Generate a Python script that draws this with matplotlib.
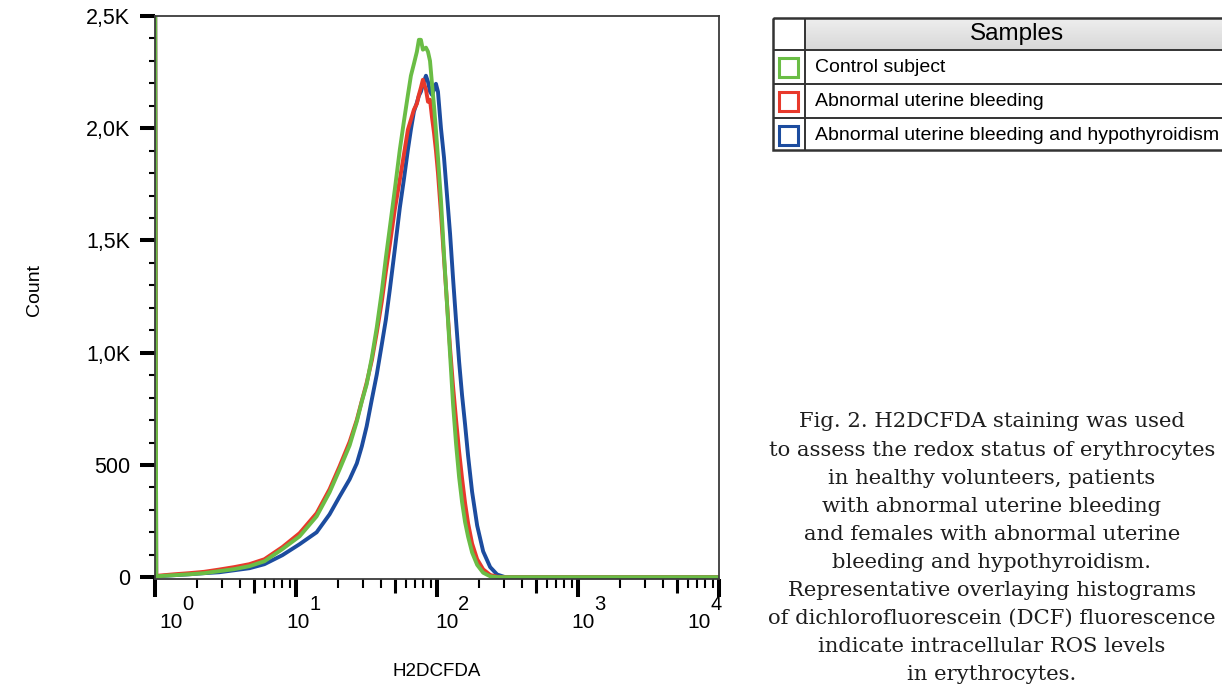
import numpy as np
import matplotlib.pyplot as plt
import matplotlib.transforms as mtransforms
from matplotlib.patches import Rectangle
from matplotlib.colors import LinearSegmentedColormap
from matplotlib.ticker import FixedLocator, MultipleLocator, NullLocator, NullFormatter

plt.rcParams['font.family'] = ['Liberation Sans', 'DejaVu Sans']

# H2DCFDA fluorescence (channel positions, a.u.)
fluor = [1.0, 1.02, 1.37, 1.75, 2.23, 2.85, 3.65, 4.67, 5.97, 8.0, 10.6, 14.0, 17.3, 20.4,
         24.0, 27.0, 29.3, 31.7, 34.5, 37.4, 40.6, 43.4, 46.3, 50.2, 54.5, 58.2, 62.2, 65.3,
         68.6, 72.0, 74.4, 76.9, 79.4, 83.5, 86.3, 89.2, 92.1, 95.2, 98.3, 101.6, 106.7,
         112.1, 117.8, 123.8, 130.0, 136.6, 143.5, 150.6, 158.2, 166.2, 177.4, 192.7, 212.5,
         238.3, 267, 305, 360, 1000, 10000]

# event counts per channel
control = [3000, 4, 9, 13, 18, 27, 36, 49, 71, 125, 182, 271, 378, 481, 587, 694, 783, 859,
           979, 1113, 1273, 1424, 1558, 1727, 1905, 2029, 2149, 2234, 2287, 2341, 2394, 2394,
           2350, 2359, 2341, 2300, 2200, 2100, 1990, 1870, 1680, 1437, 1215, 992, 770, 592,
           445, 334, 245, 180, 110, 55, 20, 4, 0, 0, 0, 0, 0]
aub = [3000, 6, 13, 18, 24, 34, 45, 58, 80, 134, 196, 285, 392, 495, 603, 701, 786, 866,
       966, 1090, 1228, 1362, 1482, 1638, 1771, 1882, 1994, 2038, 2083, 2109, 2149, 2181,
       2216, 2172, 2118, 2127, 2050, 1980, 1900, 1800, 1620, 1420, 1220, 1020, 850, 700,
       560, 440, 330, 240, 150, 80, 35, 10, 2, 0, 0, 0, 0]
aub_hypo = [3000, 4, 9, 13, 18, 22, 31, 40, 58, 98, 147, 200, 280, 360, 436, 507, 583, 672,
            792, 903, 1037, 1148, 1282, 1460, 1646, 1771, 1905, 1994, 2074, 2114, 2145, 2163,
            2194, 2234, 2207, 2163, 2149, 2172, 2198, 2163, 2000, 1870, 1700, 1530, 1330,
            1140, 960, 810, 680, 540, 380, 230, 115, 45, 12, 0, 0, 0, 0]

samples = ['Control subject', 'Abnormal uterine bleeding',
           'Abnormal uterine bleeding and hypothyroidism']
colors = ['#6abd45', '#e8392b', '#1c4c9f']

y_ticks = [0, 500, 1000, 1500, 2000, 2500]
y_labels = ['0', '500', '1,0K', '1,5K', '2,0K', '2,5K']
x_decades = [1, 10, 100, 1000, 10000]
x_exps = ['0', '1', '2', '3', '4']

caption = ['Fig. 2. H2DCFDA staining was used',
           'to assess the redox status of erythrocytes',
           'in healthy volunteers, patients',
           'with abnormal uterine bleeding',
           'and females with abnormal uterine',
           'bleeding and hypothyroidism.',
           'Representative overlaying histograms',
           'of dichlorofluorescein (DCF) fluorescence',
           'indicate intracellular ROS levels',
           'in erythrocytes.']

W, H = 1222, 687
fig = plt.figure(figsize=(W / 100, H / 100), dpi=100)
ax = fig.add_axes([155 / W, 1 - 579 / H, (719 - 155) / W, (579 - 16) / H])

# histograms: blue under red under green
for counts, c in zip([aub_hypo, aub, control], colors[::-1]):
    ax.plot(fluor, counts, color=c, lw=2.8, solid_joinstyle='round')

ax.set_xscale('log')
ax.set_xlim(1, 1e4)
ax.set_ylim(-8, 2500)

for s in ax.spines.values():
    s.set_color('#3a3a3a')
    s.set_linewidth(1.3)

ax.yaxis.set_major_locator(FixedLocator(y_ticks))
ax.set_yticklabels(y_labels)
ax.yaxis.set_minor_locator(MultipleLocator(100))
ax.tick_params(axis='y', which='major', length=11, width=2.9, labelsize=15.5, pad=7)
ax.tick_params(axis='y', which='minor', length=4.5, width=1.5)

ax.xaxis.set_major_locator(FixedLocator(x_decades))
ax.xaxis.set_major_formatter(NullFormatter())
ax.xaxis.set_minor_locator(FixedLocator(
    [d * k for d in x_decades[:-1] for k in (2, 3, 4, 6, 7, 8, 9)]))
ax.xaxis.set_minor_formatter(NullFormatter())
ax.tick_params(axis='x', which='major', length=13, width=2.9)
ax.tick_params(axis='x', which='minor', length=6.5, width=1.5)

# medium ticks at 5 x 10^n
sec = ax.secondary_xaxis('bottom')
sec.xaxis.set_major_locator(FixedLocator([d * 5 for d in x_decades[:-1]]))
sec.xaxis.set_major_formatter(NullFormatter())
sec.xaxis.set_minor_locator(NullLocator())
sec.tick_params(axis='x', which='major', length=10, width=2.2)
sec.spines['bottom'].set_visible(False)

# decade labels 10^n
label_dx = [16, 2, 10, 5, -20]
base = mtransforms.blended_transform_factory(ax.transData, ax.transAxes)
for d, e, dx in zip(x_decades, x_exps, label_dx):
    t1 = mtransforms.offset_copy(base, fig=fig, x=dx, y=-44, units='dots')
    ax.text(d, 0, '10', transform=t1, ha='center', va='center', fontsize=15)
    t2 = mtransforms.offset_copy(base, fig=fig, x=dx + 17, y=-26, units='dots')
    ax.text(d, 0, e, transform=t2, ha='center', va='center', fontsize=14.5)

fig.text(35 / W, 1 - 290 / H, 'Count', rotation=90, ha='center', va='center', fontsize=14)
fig.text(437 / W, 1 - 672 / H, 'H2DCFDA', ha='center', va='center', fontsize=13.5)

# legend table
lg = fig.add_axes([773 / W, 1 - 150 / H, (1240 - 773) / W, (150 - 18) / H])
grad = LinearSegmentedColormap.from_list('hdr', ['#eeeeee', '#d8d8d8'])
lg.imshow(np.linspace(0, 1, 40).reshape(-1, 1), cmap=grad, aspect='auto',
          extent=(805, 1240, 50, 18), origin='upper')
lg.set_xlim(773, 1240)
lg.set_ylim(150, 18)
lg.axis('off')
line_kw = dict(color='#333333', lw=1.4)
lg.add_patch(Rectangle((773, 18), 467, 132, fill=False, ec='#333333', lw=1.8, clip_on=False))
for yy in [50, 84, 118]:
    lg.plot([773, 1240], [yy, yy], **line_kw)
lg.plot([805, 805], [18, 150], **line_kw)
lg.text(1017, 34, 'Samples', ha='center', va='center', fontsize=17.5)
for i, (name, c) in enumerate(zip(samples, colors)):
    yc = 67 + i * 34
    lg.add_patch(Rectangle((778.5, yc - 9.5), 19, 19, fill=False, ec=c, lw=2.2))
    lg.text(815, yc, name, va='center', ha='left', fontsize=14)

for i, line in enumerate(caption):
    fig.text(992 / W, 1 - (422 + i * 28) / H, line, ha='center', va='center',
             family='DejaVu Serif', fontsize=15.2, color='#1e1e1e')

fig.savefig('out.png', dpi=100)
